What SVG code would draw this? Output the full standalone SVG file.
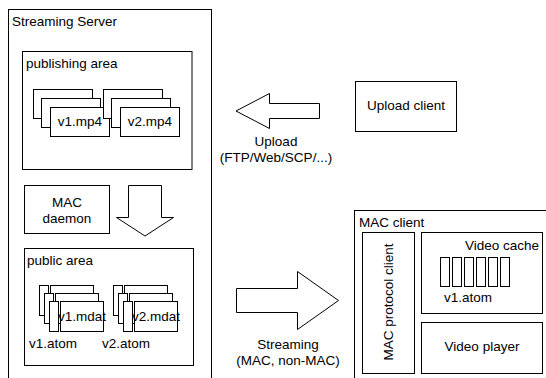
<svg xmlns="http://www.w3.org/2000/svg" width="546" height="378" viewBox="0 0 546 378">
<style>
rect, polygon { fill: #fff; stroke: #000; stroke-width: 1; }
text { font-family: "Liberation Sans", Arial, sans-serif; font-size: 13.5px; fill: #000; }
.c { text-anchor: middle; }
.e { text-anchor: end; }
</style>
<defs>
  <g id="pubstack">
    <rect x="0" y="0" width="59" height="29"/>
    <rect x="8" y="9" width="59" height="29"/>
    <rect x="17" y="18" width="59" height="29"/>
  </g>
  <g id="atomstack">
    <rect x="0" y="0" width="9" height="30"/>
    <rect x="11" y="0" width="43" height="30"/>
    <rect x="5" y="8" width="9" height="30"/>
    <rect x="16" y="8" width="43" height="30"/>
    <rect x="10" y="16" width="9" height="30"/>
    <rect x="21" y="16" width="43" height="30"/>
  </g>
  <rect id="cell" x="0" y="0" width="9" height="29"/>
</defs>

<g id="streaming-server">
  <rect x="8.5" y="9.5" width="203" height="400"/>
  <text x="12" y="26">Streaming Server</text>
</g>

<g id="publishing-area">
  <rect x="22.5" y="51.5" width="169.5" height="118"/>
  <text x="26" y="68">publishing area</text>
</g>

<g id="v1-mp4">
  <use href="#pubstack" x="33.5" y="89.5"/>
  <text class="c" x="80" y="126">v1.mp4</text>
</g>

<g id="v2-mp4">
  <use href="#pubstack" x="103.5" y="89.5"/>
  <text class="c" x="150" y="126">v2.mp4</text>
</g>

<g id="mac-daemon">
  <rect x="24.5" y="185.5" width="85" height="48"/>
  <text class="c" x="67" y="207">MAC</text>
  <text class="c" x="67" y="223">daemon</text>
</g>

<g id="public-area">
  <rect x="24.5" y="248.5" width="169" height="117"/>
  <text x="27" y="265">public area</text>
</g>

<g id="v1-atom">
  <use href="#atomstack" x="39.5" y="285.5"/>
  <text class="c" x="82" y="321">v1.mdat</text>
  <text x="29" y="348">v1.atom</text>
</g>

<g id="v2-atom">
  <use href="#atomstack" x="113.5" y="285.5"/>
  <text class="c" x="156" y="321">v2.mdat</text>
  <text x="102" y="348">v2.atom</text>
</g>

<g id="upload-client">
  <rect x="355.5" y="81.5" width="101" height="50"/>
  <text class="c" x="406" y="110">Upload client</text>
</g>

<g id="mac-client">
  <rect x="354.5" y="210.5" width="220" height="200"/>
  <text x="359" y="227">MAC client</text>
</g>

<g id="mac-protocol-client">
  <rect x="362.5" y="232.5" width="52" height="141"/>
  <text class="c" transform="translate(393,302) rotate(-90)">MAC protocol client</text>
</g>

<g id="video-cache">
  <rect x="421.5" y="232.5" width="121" height="81"/>
  <text class="e" x="539" y="250">Video cache</text>
  <use href="#cell" x="440.5" y="257.5"/>
  <use href="#cell" x="452.5" y="257.5"/>
  <use href="#cell" x="464.5" y="257.5"/>
  <use href="#cell" x="476.5" y="257.5"/>
  <use href="#cell" x="488.5" y="257.5"/>
  <use href="#cell" x="500.5" y="257.5"/>
  <text class="c" x="468" y="302">v1.atom</text>
</g>

<g id="video-player">
  <rect x="421.5" y="322.5" width="121" height="51"/>
  <text class="c" x="482" y="351">Video player</text>
</g>

<g id="connectors">
  <polygon points="128.5,185.5 161.5,185.5 161.5,217.5 173.5,217.5 145,236 116.5,217.5 128.5,217.5"/>
  <polygon points="236,111 269.5,93.5 269.5,103.5 319.5,103.5 319.5,118.5 269.5,118.5 269.5,128.5"/>
  <text class="c" x="276" y="146">Upload</text>
  <text class="c" x="276" y="162">(FTP/Web/SCP/...)</text>
  <polygon points="236.5,288.5 297.5,288.5 297.5,271.5 338.5,300.5 297.5,329.5 297.5,312.5 236.5,312.5"/>
  <text class="c" x="288" y="349">Streaming</text>
  <text class="c" x="288" y="365">(MAC, non-MAC)</text>
</g>
</svg>
